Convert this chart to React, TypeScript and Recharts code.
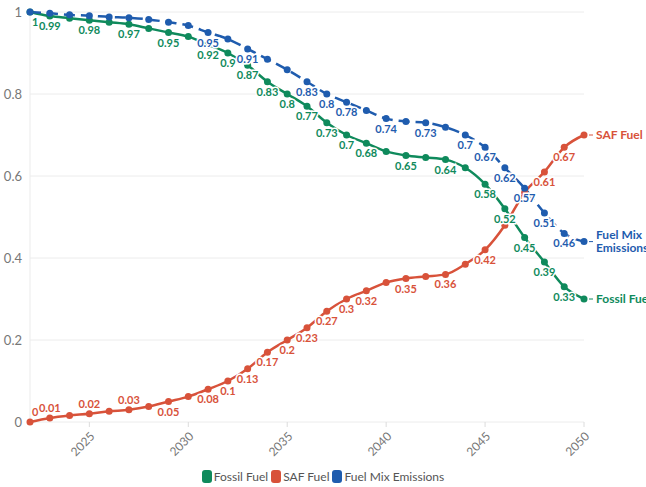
import { CartesianGrid, LabelList, Line, LineChart, XAxis, YAxis } from 'recharts';

// Fuel share outlook, 2022–2050
const years = [
  2022, 2023, 2024, 2025, 2026, 2027, 2028, 2029, 2030, 2031, 2032, 2033, 2034, 2035, 2036,
  2037, 2038, 2039, 2040, 2041, 2042, 2043, 2044, 2045, 2046, 2047, 2048, 2049, 2050,
];

const fossilFuel = [
  1, 0.99, 0.985, 0.98, 0.975, 0.97, 0.96, 0.95, 0.94, 0.92, 0.9, 0.87, 0.83, 0.8, 0.77,
  0.73, 0.7, 0.68, 0.66, 0.65, 0.645, 0.64, 0.62, 0.58, 0.52, 0.45, 0.39, 0.33, 0.3,
];

const safFuel = [
  0, 0.01, 0.016, 0.02, 0.026, 0.03, 0.038, 0.05, 0.062, 0.08, 0.1, 0.13, 0.17, 0.2, 0.23,
  0.27, 0.3, 0.32, 0.34, 0.35, 0.355, 0.36, 0.385, 0.42, 0.48, 0.56, 0.61, 0.67, 0.7,
];

const fuelMix = [
  1, 0.997, 0.993, 0.991, 0.988, 0.986, 0.982, 0.975, 0.967, 0.95, 0.934, 0.91, 0.885, 0.859, 0.83,
  0.8, 0.78, 0.76, 0.74, 0.733, 0.73, 0.719, 0.7, 0.67, 0.62, 0.57, 0.51, 0.46, 0.44,
];

// years that carry a value label (the rest would collide)
const fossilLabelYears = [
  2022, 2023, 2025, 2027, 2029, 2031, 2032, 2033, 2034, 2035, 2036, 2037, 2038, 2039, 2041,
  2043, 2045, 2046, 2047, 2048, 2049,
];
const safLabelYears = [
  2022, 2023, 2025, 2027, 2029, 2031, 2032, 2033, 2034, 2035, 2036, 2037, 2038, 2039, 2041,
  2043, 2045, 2048, 2049,
];
const mixLabelYears = [2031, 2033, 2036, 2037, 2038, 2040, 2042, 2044, 2045, 2046, 2047, 2048, 2049];

const yearTicks = [2025, 2030, 2035, 2040, 2045, 2050];
const valueTicks = [0, 0.2, 0.4, 0.6, 0.8, 1];

const SERIES = [
  { key: 'fossil', name: 'Fossil Fuel', color: '#0f8a5c' },
  { key: 'saf', name: 'SAF Fuel', color: '#d8523a' },
  { key: 'mix', name: 'Fuel Mix Emissions', color: '#1f5cae' },
];

const FONT = 'Lato, "Noto Sans", sans-serif';
const last = years.length - 1;

const data = years.map((year, i) => ({
  year,
  fossil: fossilFuel[i],
  saf: safFuel[i],
  mix: fuelMix[i],
  fossilLabel: fossilLabelYears.includes(year) ? fossilFuel[i] : null,
  safLabel: safLabelYears.includes(year) ? safFuel[i] : null,
  mixLabel: mixLabelYears.includes(year) ? fuelMix[i] : null,
  fossilEnd: i === last ? 'Fossil Fuel' : null,
  safEnd: i === last ? 'SAF Fuel' : null,
  mixEnd: i === last ? 'Fuel Mix Emissions' : null,
}));

const valueLabel = (color: string) => (props: any) => {
  const { x, y, value } = props;
  if (value == null || x == null) return null;
  // near the baseline there is no room underneath, so put it on top
  const above = value < 0.04 && value !== 1;
  const atStart = x < 35;
  return (
    <text
      x={atStart ? x + 2 : x}
      y={above ? y - 6 : y + 14}
      textAnchor={atStart ? 'start' : 'middle'}
      fill={color}
      stroke="#fff"
      strokeWidth={3}
      paintOrder="stroke"
      fontSize={11}
      fontWeight={700}
      fontFamily={FONT}
    >
      {String(value)}
    </text>
  );
};

const endLabel = (color: string) => (props: any) => {
  const { x, y, value } = props;
  if (value == null || x == null) return null;
  const lines = value === 'Fuel Mix Emissions' ? ['Fuel Mix', 'Emissions'] : [value];
  const lineHeight = 12.5;
  const top = y + 4 - ((lines.length - 1) * lineHeight) / 2;
  return (
    <g>
      <line x1={x + 5} y1={y} x2={x + 9} y2={y} stroke={color} strokeWidth={1} />
      <text fill={color} fontSize={12} fontWeight={700} fontFamily={FONT}>
        {lines.map((l, i) => (
          <tspan key={l} x={x + 12} y={top + i * lineHeight}>
            {l}
          </tspan>
        ))}
      </text>
    </g>
  );
};

const YearTick = (props: any) => {
  const { x, y, payload } = props;
  return (
    <text
      x={x + 3}
      y={y + 3}
      transform={`rotate(-45 ${x + 3} ${y + 3})`}
      textAnchor="end"
      dominantBaseline="central"
      fill="#777"
      fontSize={12}
      fontFamily={FONT}
    >
      {payload.value}
    </text>
  );
};

const ChartLegend = () => (
  <div
    style={{
      position: 'absolute',
      top: 469,
      left: 0,
      width: 646,
      display: 'flex',
      justifyContent: 'center',
      gap: 3,
      fontFamily: FONT,
      fontSize: 12,
      color: '#555',
    }}
  >
    {SERIES.map(s => (
      <div key={s.key} style={{ display: 'flex', alignItems: 'center', gap: 2 }}>
        <span style={{ width: 10, height: 13, borderRadius: 3, background: s.color, display: 'inline-block' }} />
        <span>{s.name}</span>
      </div>
    ))}
  </div>
);

export default function App() {
  return (
    <div style={{ position: 'absolute', left: 0, top: 0, width: 646, height: 487, background: '#fff' }}>
      <LineChart width={646} height={487} data={data} margin={{ top: 12, right: 62, bottom: 0, left: 0 }}>
        <CartesianGrid vertical={false} stroke="#ececec" />
        <XAxis
          dataKey="year"
          type="number"
          domain={[2022, 2050]}
          ticks={yearTicks}
          height={65}
          axisLine={false}
          tickLine={{ stroke: '#dcdcdc' }}
          tickSize={5}
          tickMargin={4}
          tick={<YearTick />}
          interval={0}
        />
        <YAxis
          domain={[0, 1]}
          ticks={valueTicks}
          width={30}
          axisLine={{ stroke: '#ebebeb' }}
          tickLine={false}
          tickSize={0}
          tickMargin={8}
          tick={{ fill: '#777', fontSize: 13, fontFamily: FONT }}
        />
        <Line
          dataKey="fossil"
          name="Fossil Fuel"
          type="monotone"
          stroke={SERIES[0].color}
          strokeWidth={2.5}
          dot={{ r: 3.5, fill: SERIES[0].color, stroke: 'none' }}
          activeDot={false}
          isAnimationActive={false}
        >
          <LabelList dataKey="fossilLabel" content={valueLabel(SERIES[0].color)} />
          <LabelList dataKey="fossilEnd" content={endLabel(SERIES[0].color)} />
        </Line>
        <Line
          dataKey="saf"
          name="SAF Fuel"
          type="monotone"
          stroke={SERIES[1].color}
          strokeWidth={2.5}
          dot={{ r: 3.5, fill: SERIES[1].color, stroke: 'none' }}
          activeDot={false}
          isAnimationActive={false}
        >
          <LabelList dataKey="safLabel" content={valueLabel(SERIES[1].color)} />
          <LabelList dataKey="safEnd" content={endLabel(SERIES[1].color)} />
        </Line>
        <Line
          dataKey="mix"
          name="Fuel Mix Emissions"
          type="monotone"
          stroke={SERIES[2].color}
          strokeWidth={2.5}
          strokeDasharray="11 6"
          dot={{ r: 3.5, fill: SERIES[2].color, stroke: 'none', strokeDasharray: '' }}
          activeDot={false}
          isAnimationActive={false}
        >
          <LabelList dataKey="mixLabel" content={valueLabel(SERIES[2].color)} />
          <LabelList dataKey="mixEnd" content={endLabel(SERIES[2].color)} />
        </Line>
      </LineChart>
      <ChartLegend />
    </div>
  );
}
